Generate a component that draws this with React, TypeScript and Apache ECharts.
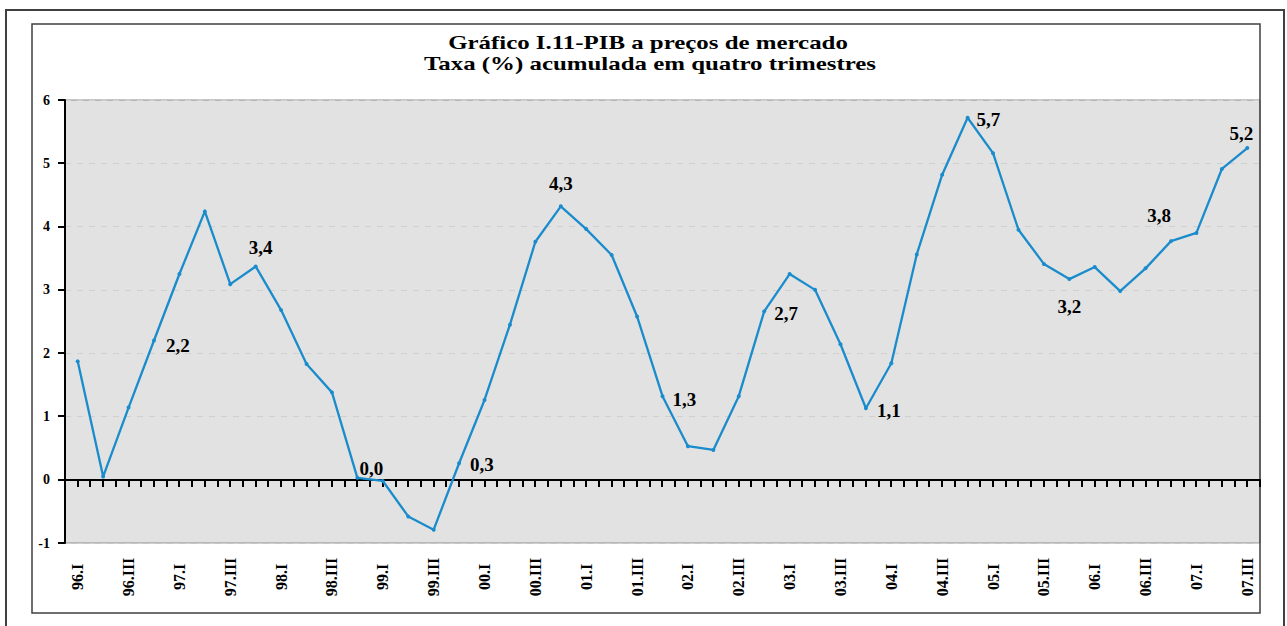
import React, { useEffect, useRef } from "react";
import * as echarts from "echarts";

const categories = [
  "96.I", "96.II", "96.III", "96.IV",
  "97.I", "97.II", "97.III", "97.IV",
  "98.I", "98.II", "98.III", "98.IV",
  "99.I", "99.II", "99.III", "99.IV",
  "00.I", "00.II", "00.III", "00.IV",
  "01.I", "01.II", "01.III", "01.IV",
  "02.I", "02.II", "02.III", "02.IV",
  "03.I", "03.II", "03.III", "03.IV",
  "04.I", "04.II", "04.III", "04.IV",
  "05.I", "05.II", "05.III", "05.IV",
  "06.I", "06.II", "06.III", "06.IV",
  "07.I", "07.II", "07.III",
];

const pibValues = [
  1.87, 0.05, 1.14, 2.2,
  3.25, 4.24, 3.09, 3.37,
  2.68, 1.83, 1.38, 0.03,
  -0.02, -0.58, -0.79, 0.26,
  1.26, 2.45, 3.76, 4.32,
  3.96, 3.55, 2.58, 1.32,
  0.53, 0.47, 1.32, 2.66,
  3.25, 3.0, 2.14, 1.13,
  1.84, 3.56, 4.82, 5.72,
  5.16, 3.95, 3.41, 3.17,
  3.36, 2.98, 3.34, 3.77,
  3.9, 4.91, 5.24,
];

const yTicks = { min: -1, max: 6, interval: 1 };
const yTickValues = [-1, 0, 1, 2, 3, 4, 5, 6];

const titleLines = [
  "Gráfico I.11-PIB a preços de mercado",
  "Taxa (%) acumulada em quatro trimestres",
];

// label placement (style) for annotated points, keyed by category index
const labelPlacement: Record<number, { position: string; distance: number; offset?: number[] }> = {
  3: { position: "right", distance: 10, offset: [0, 5] },
  7: { position: "top", distance: 7, offset: [5, 0] },
  11: { position: "top", distance: 2, offset: [14, 4] },
  15: { position: "right", distance: 9, offset: [0, 1] },
  19: { position: "top", distance: 11, offset: [0, 0] },
  23: { position: "right", distance: 8, offset: [0, 3] },
  27: { position: "right", distance: 8, offset: [0, 2] },
  31: { position: "right", distance: 9, offset: [0, 2] },
  35: { position: "right", distance: 7, offset: [0, 2] },
  39: { position: "bottom", distance: 16, offset: [0, 0] },
  43: { position: "top", distance: 14, offset: [-12, 0] },
  46: { position: "top", distance: 6, offset: [-6, 3] },
};

const FONT = '"Liberation Serif", "Times New Roman", serif';
const LINE_COLOR = "#1a8ccc";
const TICK_LEN = 7;

export default function App() {
  const ref = useRef<HTMLDivElement>(null);

  useEffect(() => {
    if (!ref.current) return;
    const chart = echarts.init(ref.current, null, { renderer: "svg" });

    const seriesData = pibValues.map((v, i) => {
      const p = labelPlacement[i];
      if (!p) return v;
      return {
        value: v,
        label: {
          show: true,
          position: p.position,
          distance: p.distance,
          offset: p.offset,
          formatter: (d: any) => Number(d.value).toFixed(1).replace(".", ","),
          fontFamily: FONT,
          fontWeight: "bold",
          fontSize: 19,
          color: "#000",
        },
      };
    });

    // ticks on the zero line: at every quarter and at every boundary between quarters
    const xTickRender = (params: any, api: any) => {
      const idx = api.value(0);
      const c = api.coord([idx, 0]);
      const half = api.size([1, 0])[0] / 2;
      const xs = [c[0] - half, c[0]];
      if (idx === categories.length - 1) xs.push(c[0] + half);
      return {
        type: "group",
        children: xs.map((x) => ({
          type: "rect",
          shape: { x: Math.round(x) - 1, y: Math.round(c[1]), width: 2, height: TICK_LEN },
          style: { fill: "#000" },
        })),
      };
    };

    // ticks on the value axis, pointing outward (left)
    const yTickRender = (params: any, api: any) => {
      const c = api.coord([0, api.value(1)]);
      const half = api.size([1, 0])[0] / 2;
      const x = c[0] - half;
      return {
        type: "rect",
        shape: { x: Math.round(x) - TICK_LEN, y: Math.round(c[1]) - 1, width: TICK_LEN, height: 2 },
        style: { fill: "#000" },
      };
    };

    const option: any = {
      animation: false,
      backgroundColor: "#ffffff",
      textStyle: { fontFamily: FONT },
      grid: {
        left: 65,
        top: 100,
        right: 27,
        bottom: 83,
        show: true,
        backgroundColor: "#e2e2e2",
        borderColor: "#8c8c8c",
        borderWidth: 1,
      },
      xAxis: [
        {
          type: "category",
          data: categories,
          boundaryGap: true,
          position: "bottom",
          axisLine: { show: false, onZero: false },
          axisTick: { show: false },
          splitLine: { show: false },
          axisLabel: {
            interval: 1,
            rotate: 90,
            align: "center",
            verticalAlign: "middle",
            margin: 34,
            fontFamily: FONT,
            fontWeight: "bold",
            fontSize: 16,
            color: "#000",
          },
        },
        {
          type: "category",
          data: categories,
          boundaryGap: true,
          position: "bottom",
          axisLine: { show: true, onZero: true, lineStyle: { color: "#000", width: 2 } },
          axisTick: { show: false },
          axisLabel: { show: false },
          splitLine: { show: false },
        },
      ],
      yAxis: {
        type: "value",
        min: yTicks.min,
        max: yTicks.max,
        interval: yTicks.interval,
        axisLine: { show: true, lineStyle: { color: "#000", width: 2 } },
        axisTick: { show: false },
        axisLabel: {
          margin: 15,
          fontFamily: FONT,
          fontWeight: "bold",
          fontSize: 14,
          color: "#000",
        },
        splitLine: { show: true, lineStyle: { color: "#d0d0d0", type: [6, 6], width: 1 } },
      },
      series: [
        {
          type: "custom",
          xAxisIndex: 0,
          yAxisIndex: 0,
          data: categories.map((_, i) => [i, 0]),
          renderItem: xTickRender,
          clip: false,
          silent: true,
          z: 3,
        },
        {
          type: "custom",
          xAxisIndex: 0,
          yAxisIndex: 0,
          data: yTickValues.map((v) => [0, v]),
          renderItem: yTickRender,
          clip: false,
          silent: true,
          z: 3,
        },
        {
          type: "line",
          xAxisIndex: 0,
          yAxisIndex: 0,
          data: seriesData,
          symbol: "circle",
          symbolSize: 4,
          showAllSymbol: true,
          lineStyle: { color: LINE_COLOR, width: 2.3 },
          itemStyle: { color: LINE_COLOR },
          z: 5,
        },
      ],
      graphic: [
        {
          type: "rect",
          silent: true,
          shape: { x: 6, y: 10, width: 1278, height: 640 },
          style: { fill: "none", stroke: "#404040", lineWidth: 2 },
        },
        {
          type: "rect",
          silent: true,
          shape: { x: 32, y: 24, width: 1228, height: 589 },
          style: { fill: "none", stroke: "#404040", lineWidth: 1.5 },
        },
        {
          type: "text",
          x: 648,
          y: 43,
          scaleX: 1.31,
          style: {
            text: titleLines[0],
            font: 'bold 19px "Liberation Serif"',
            fill: "#000",
            textAlign: "center",
            textVerticalAlign: "middle",
          },
        },
        {
          type: "text",
          x: 650,
          y: 64,
          scaleX: 1.31,
          style: {
            text: titleLines[1],
            font: 'bold 19px "Liberation Serif"',
            fill: "#000",
            textAlign: "center",
            textVerticalAlign: "middle",
          },
        },
      ],
    };

    chart.setOption(option);
    return () => chart.dispose();
  }, []);

  return (
    <div
      ref={ref}
      style={{ position: "absolute", left: 0, top: 0, width: 1287, height: 626 }}
    />
  );
}
